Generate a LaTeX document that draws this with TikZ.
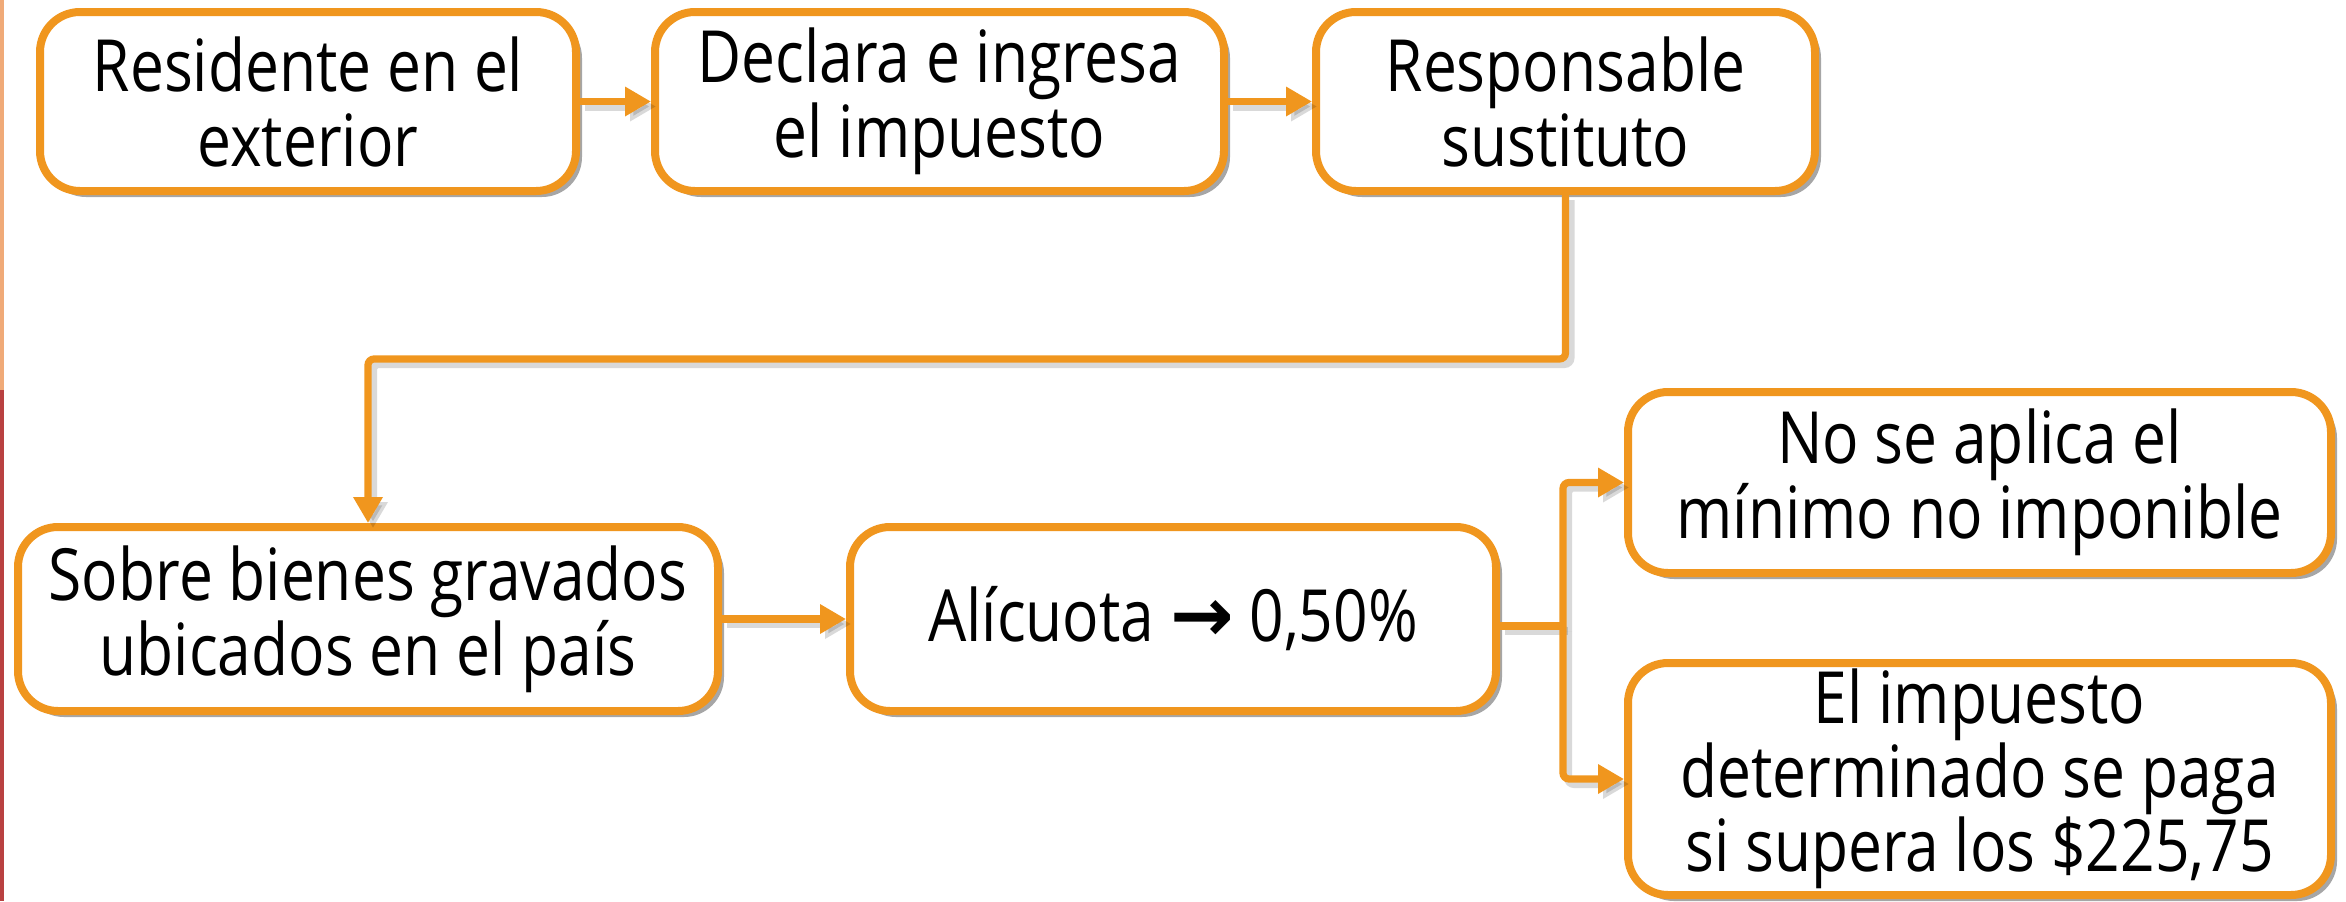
\documentclass[tikz,border=0pt]{standalone}
\usepackage{fontspec}
\setmainfont{Open Sans}[FakeStretch=0.84]
\usetikzlibrary{arrows.meta,shadows,positioning}
\definecolor{orng}{RGB}{240,150,30}
\definecolor{edgeor}{RGB}{240,170,120}
\definecolor{edgered}{RGB}{185,65,65}
\tikzset{
  box/.style={draw=orng, line width=4pt, rounded corners=20pt, fill=white,
    align=center, inner sep=0pt, font=\fontsize{36}{37.5}\selectfont,
    drop shadow={shadow xshift=3pt, shadow yshift=-3pt, opacity=0.35, fill=black}},
  conn/.style={draw=orng, line width=3.6pt, -{Triangle[length=13pt,width=14pt]},
    preaction={draw=black, opacity=0.15, line width=4pt, transform canvas={xshift=2.5pt,yshift=-2.5pt}}},
  plain/.style={draw=orng, line width=3.6pt,
    preaction={draw=black, opacity=0.15, line width=4pt, transform canvas={xshift=2.5pt,yshift=-2.5pt}}}
}
\begin{document}
\begin{tikzpicture}[x=0.5pt,y=-0.5pt]
\useasboundingbox (0,0) rectangle (2346,901);
\fill[edgeor] (0,0) rectangle (4,390);
\fill[edgered] (0,390) rectangle (4,901);

\node[box, minimum width=536*0.5pt, minimum height=179*0.5pt] (b1) at (308,101.5) {Residente en el\\exterior};
\node[box, minimum width=569*0.5pt, minimum height=179*0.5pt] (b2) at (939.5,101.5) {Declara e ingresa\\el impuesto};
\node[box, minimum width=499*0.5pt, minimum height=179*0.5pt] (b3) at (1565.5,101.5) {Responsable\\sustituto};
\node[box, minimum width=700*0.5pt, minimum height=184*0.5pt] (b4) at (368,619) {Sobre bienes gravados\\ubicados en el país};
\node[box, minimum width=646*0.5pt, minimum height=184*0.5pt] (b5) at (1173,619) {Alícuota {\fontspec{DejaVu Sans Bold}\fontsize{38}{38}\selectfont →} 0,50\%};
\node[box, minimum width=703*0.5pt, minimum height=181*0.5pt] (b6) at (1979.5,482.5) {No se aplica el\\mínimo no imponible};
\node[box, minimum width=703*0.5pt, minimum height=232*0.5pt, font=\fontsize{36}{35.5}\selectfont] (b7) at (1979.5,779) {El impuesto\\determinado se paga\\si supera los \$225,75};

\coordinate (j) at (1563,626);
\draw[conn] (b1.east) -- (b2.west);
\draw[conn] (b2.east) -- (b3.west);
\draw[conn, rounded corners=3pt] (b3.south) |- (368,359) -- (b4.north);
\draw[conn] (b4.east) -- (b5.west);
\draw[plain] (b5.east |- j) -- (j);
\draw[conn, rounded corners=3pt] (j) |- (b6.west);
\draw[conn, rounded corners=3pt] (j) |- (b7.west);
\end{tikzpicture}
\end{document}
